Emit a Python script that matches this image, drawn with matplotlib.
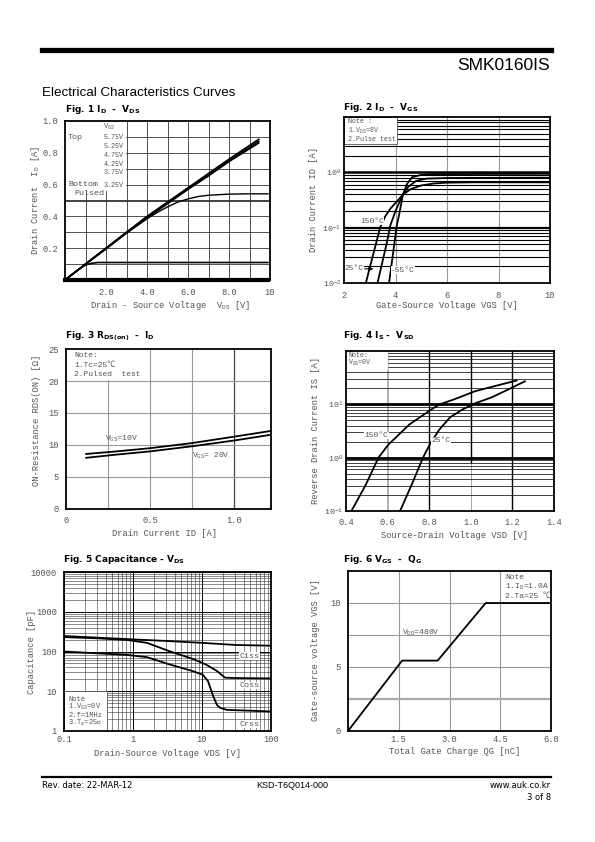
import matplotlib.pyplot as plt
import numpy as np
from matplotlib.patches import Rectangle

plt.rcParams['font.family'] = ['Liberation Mono', 'DejaVu Sans']
plt.rcParams['mathtext.default'] = 'regular'

W, H = 595, 842
GRAY = '#555555'

# ---- Fig.1  ID - VDS
vds1 = [0, 1, 2, 3, 4, 5, 6, 7, 8, 9.45]
id1_575 = [0, 0.10, 0.20, 0.30, 0.40, 0.49, 0.58, 0.67, 0.76, 0.885]
id1_525 = [0, 0.10, 0.20, 0.30, 0.395, 0.485, 0.575, 0.66, 0.75, 0.873]
id1_475 = [0, 0.10, 0.195, 0.295, 0.39, 0.48, 0.57, 0.655, 0.745, 0.862]
vds1_425 = [0, 1, 2, 3, 4, 4.5, 5, 5.5, 6, 6.5, 7, 8, 9, 9.9]
id1_425 = [0, 0.10, 0.20, 0.295, 0.385, 0.425, 0.46, 0.49, 0.51, 0.525, 0.533, 0.54, 0.542, 0.542]
vds1_375 = [0, 0.6, 1.0, 1.3, 1.6, 2.0, 9.9]
id1_375 = [0, 0.06, 0.095, 0.105, 0.11, 0.11, 0.11]
vds1_325 = [0, 9.9]
id1_325 = [0, 0]
vgs_steps = ['5.75V', '5.25V', '4.75V', '4.25V', '3.75V', '3.25V']

# ---- Fig.2  ID - VGS
vgs2_150 = [2.85, 3.0, 3.2, 3.4, 3.6, 3.8, 4.0, 4.3, 4.6, 5.0, 5.5, 6.0, 7.0, 10.0]
id2_150 = [0.01, 0.019, 0.043, 0.1, 0.16, 0.22, 0.28, 0.4, 0.5, 0.58, 0.63, 0.65, 0.66, 0.66]
vgs2_25 = [3.3, 3.5, 3.65, 3.8, 4.0, 4.29, 4.5, 4.8, 5.2, 6.0, 10.0]
id2_25 = [0.01, 0.025, 0.05, 0.11, 0.2, 0.4, 0.55, 0.7, 0.77, 0.79, 0.8]
vgs2_m55 = [3.75, 3.9, 4.05, 4.15, 4.29, 4.45, 4.65, 5.0, 5.5, 10.0]
id2_m55 = [0.01, 0.033, 0.11, 0.18, 0.4, 0.62, 0.82, 0.9, 0.93, 0.94]

# ---- Fig.3  RDS(on) - ID
id3 = [0.12, 0.3, 0.5, 0.75, 1.0, 1.22]
r3_10v = [8.6, 9.0, 9.5, 10.3, 11.3, 12.2]
r3_20v = [8.0, 8.5, 9.0, 9.8, 10.7, 11.6]

# ---- Fig.4  IS - VSD
vsd4_150 = [0.426, 0.495, 0.556, 0.604, 0.705, 0.81, 0.85, 0.92, 1.02, 1.116, 1.22]
is4_150 = [0.1, 0.31, 1.0, 1.76, 4.2, 8.0, 10.0, 12.4, 17.6, 22, 28]
vsd4_25 = [0.66, 0.72, 0.77, 0.81, 0.85, 0.9, 0.96, 1.02, 1.1, 1.18, 1.26]
is4_25 = [0.1, 0.34, 1.0, 2.0, 3.4, 5.7, 8.0, 10.4, 13.5, 19, 27]

# ---- Fig.5  Capacitance - VDS
vds5_ciss = [0.1, 0.82, 3.3, 10, 31, 100]
ciss = [245, 205, 183, 165, 146, 140]
vds5_coss = [0.1, 0.3, 0.82, 1.6, 3.3, 7.4, 11.7, 16.6, 21.5, 30, 100]
coss = [230, 215, 195, 165, 103, 65, 46, 32, 22, 21.5, 21]
vds5_crss = [0.1, 0.82, 1.6, 3.3, 7.4, 10.3, 12.2, 14.5, 16.5, 18.4, 23, 100]
crss = [100, 82, 72, 48, 32, 26, 18, 7.6, 4.5, 3.8, 3.4, 3.1]

# ---- Fig.6  VGS - QG
qg6 = [0, 1.6, 2.65, 4.07, 6.0]
vgs6 = [0, 5.5, 5.5, 10, 10]


def px_axes(l, t, r, b):
    return fig.add_axes([l / W, 1 - b / H, (r - l) / W, (b - t) / H])


def ftext(x, y, s, **kw):
    kw.setdefault('ha', 'left')
    kw.setdefault('va', 'center')
    fig.text(x / W, 1 - y / H, s, **kw)


def style(ax, lw=1.3):
    for sp in ax.spines.values():
        sp.set_linewidth(lw)
        sp.set_color('black')
        sp.set_zorder(5)
    ax.tick_params(length=0, labelsize=6.3, labelcolor=GRAY, pad=5)


fig = plt.figure(figsize=(W / 100, H / 100), dpi=100)

# header / footer
fig.add_artist(plt.Line2D([42 / W, 551 / W], [1 - 50 / H] * 2, color='black', lw=3.8))
ftext(550, 66, 'SMK0160IS', ha='right', fontsize=12.5, family='Liberation Sans')
ftext(42, 93, 'Electrical Characteristics Curves', fontsize=9.6, family='Liberation Sans')
fig.add_artist(plt.Line2D([42 / W, 551 / W], [1 - 777 / H] * 2, color='black', lw=1.6))
ftext(42, 786, 'Rev. date: 22-MAR-12', fontsize=6, family='DejaVu Sans')
ftext(292, 786, 'KSD-T6Q014-000', ha='center', fontsize=6.5, family='Liberation Sans')
ftext(551, 786, 'www.auk.co.kr', ha='right', fontsize=6, family='DejaVu Sans')
ftext(551, 797, '3 of 8', ha='right', fontsize=6, family='DejaVu Sans')

TK = dict(fontsize=6.5, family='DejaVu Sans', fontweight='bold')
LB = dict(fontsize=6.3, color=GRAY)

# ================= Fig 1 =================
ax1 = px_axes(65, 121, 270, 280)
style(ax1)
ax1.set_xlim(0, 10)
ax1.set_ylim(0, 1.0)
for v in range(1, 10):
    ax1.axvline(v, color='#333333', lw=0.6, zorder=1)
for v in np.arange(0.1, 1.0, 0.1):
    ax1.axhline(v, color='#333333', lw=1.3 if abs(v - 0.5) < 1e-6 else 0.6, zorder=1)
ax1.add_patch(Rectangle((0, 0.565), 2.95, 0.44, color='white', zorder=2))
for ys in (id1_575, id1_525, id1_475):
    ax1.plot(vds1, ys, color='black', lw=1.2, zorder=3)
ax1.plot(vds1_425, id1_425, color='black', lw=1.0, zorder=3)
ax1.plot(vds1_375, id1_375, color='black', lw=1.2, zorder=3)
ax1.plot(vds1_325, id1_325, color='black', lw=3, zorder=6, clip_on=False)
ax1.set_xticks([2, 4, 6, 8, 10], ['2.0', '4.0', '6.0', '8.0', '10'])
ax1.set_yticks([0.2, 0.4, 0.6, 0.8, 1.0], ['0.2', '0.4', '0.6', '0.8', '1.0'])
ax1.tick_params(axis='x', pad=6)
ax1.text(1.85, 0.95, '$V_{GS}$', fontsize=5, color=GRAY, zorder=4)
ax1.text(0.15, 0.885, 'Top', fontsize=6, color=GRAY, zorder=4)
for i, s in enumerate(vgs_steps):
    ax1.text(1.9, 0.885 - i * 0.055 - (0.025 if i == 5 else 0), s, fontsize=4.8, color=GRAY, zorder=4)
ax1.text(0.15, 0.58, 'Bottom', fontsize=6, color=GRAY, zorder=4, va='bottom')
ax1.text(0.45, 0.525, 'Pulsed', fontsize=6, color=GRAY, zorder=4, va='bottom')
ftext(65, 110, 'Fig. 1 $I_D$  -  $V_{DS}$', **TK)
ftext(170, 305, 'Drain - Source Voltage  $V_{DS}$ [V]', ha='center', **LB)
ftext(35, 200, 'Drain Current  $I_D$ [A]', ha='center', rotation=90, **LB)

# ================= Fig 2 =================
ax2 = px_axes(344, 117, 550, 283)
style(ax2)
ax2.set_yscale('log')
ax2.set_xlim(2, 10)
ax2.set_ylim(0.01, 10)
for v in (4, 6, 8):
    ax2.axvline(v, color='#999999', lw=0.8, zorder=1)
for dec in (0.01, 0.1, 1):
    for m in range(2, 10):
        ax2.axhline(dec * m, color='black', lw=0.8, zorder=1)
ax2.axhline(0.1, color='black', lw=1.6, zorder=1)
ax2.axhline(1.0, color='black', lw=1.8, zorder=1)
ax2.add_patch(Rectangle((2, 3.2), 2.06, 7, facecolor='white', edgecolor='#555555', lw=0.6, zorder=2))
ax2.text(2.15, 8.2, 'Note :', fontsize=4.8, color=GRAY, va='center', zorder=4)
ax2.text(2.15, 5.7, '1.$V_{DS}$=8V', fontsize=4.8, color=GRAY, va='center', zorder=4)
ax2.text(2.15, 4.0, '2.Pulse test', fontsize=4.8, color=GRAY, va='center', zorder=4)
ax2.plot(vgs2_150, id2_150, color='black', lw=1.3, zorder=3)
ax2.plot(vgs2_25, id2_25, color='black', lw=1.3, zorder=3)
ax2.plot(vgs2_m55, id2_m55, color='black', lw=1.3, zorder=3)
ax2.text(2.62, 0.13, '150°C', fontsize=5.8, color=GRAY, va='center', zorder=4,
         bbox=dict(facecolor='white', edgecolor='none', pad=0.3))
ax2.text(2.03, 0.018, '25°C', fontsize=5.8, color=GRAY, va='center', zorder=4,
         bbox=dict(facecolor='white', edgecolor='none', pad=0.3))
ax2.annotate('', xy=(3.25, 0.018), xytext=(2.7, 0.018),
             arrowprops=dict(arrowstyle='-|>', color='black', lw=0.8, mutation_scale=6), zorder=4)
ax2.text(3.83, 0.017, '-55°C', fontsize=5.8, color=GRAY, va='center', zorder=4,
         bbox=dict(facecolor='white', edgecolor='none', pad=0.3))
ax2.set_xticks([2, 4, 6, 8, 10], ['2', '4', '6', '8', '10'])
ax2.set_yticks([0.01, 0.1, 1], ['$10^{-2}$', '$10^{-1}$', '$10^{0}$'])
ax2.minorticks_off()
ax2.tick_params(axis='y', pad=2, labelsize=6)
ax2.tick_params(axis='x', pad=6)
ftext(343, 108, 'Fig. 2 $I_D$  -  $V_{GS}$', **TK)
ftext(447, 305, 'Gate-Source Voltage VGS [V]', ha='center', **LB)
ftext(314, 200, 'Drain Current ID [A]', ha='center', rotation=90, **LB)

# ================= Fig 3 =================
ax3 = px_axes(66, 349, 271, 509)
style(ax3)
ax3.set_xlim(0, 1.22)
ax3.set_ylim(0, 25)
for v in (0.25, 0.5, 0.75):
    ax3.axvline(v, color='#999999', lw=0.8, zorder=1)
ax3.axvline(1.0, color='#444444', lw=0.9, zorder=1)
for v in (5, 10, 15, 20):
    ax3.axhline(v, color='#999999', lw=0.8, zorder=1)
ax3.add_patch(Rectangle((0, 20.3), 0.45, 5, color='white', zorder=2))
ax3.text(0.05, 24.0, 'Note:', fontsize=5.8, color=GRAY, va='center', zorder=4)
ax3.text(0.05, 22.5, '1.Tc=25℃', fontsize=5.8, color=GRAY, va='center', zorder=4,
         family=['Liberation Mono', 'Noto Sans CJK SC'])
ax3.text(0.05, 21.0, '2.Pulsed  test', fontsize=5.8, color=GRAY, va='center', zorder=4)
ax3.plot(id3, r3_10v, color='black', lw=1.3, zorder=3)
ax3.plot(id3, r3_20v, color='black', lw=1.3, zorder=3)
ax3.text(0.33, 11.0, '$V_{GS}$=10V', fontsize=5.8, color=GRAY, ha='center', va='center', zorder=4)
ax3.text(0.86, 8.3, '$V_{GS}$= 20V', fontsize=5.8, color=GRAY, ha='center', va='center', zorder=4)
ax3.set_xticks([0, 0.5, 1.0], ['0', '0.5', '1.0'])
ax3.set_yticks([0, 5, 10, 15, 20, 25])
ftext(65, 336, 'Fig. 3 $R_{DS(on)}$  -  $I_D$', **TK)
ftext(165, 534, 'Drain Current ID [A]', ha='center', **LB)
ftext(37, 420, 'ON-Resistance RDS(ON) [Ω]', ha='center', rotation=90, **LB)

# ================= Fig 4 =================
ax4 = px_axes(346, 351, 554, 511)
style(ax4)
ax4.set_yscale('log')
ax4.set_xlim(0.4, 1.4)
ax4.set_ylim(0.1, 100)
ax4.axvline(0.6, color='#aaaaaa', lw=1.3, zorder=1)
for v in (0.8, 1.2):
    ax4.axvline(v, color='black', lw=1.0, zorder=1)
ax4.axvline(1.0, ymin=0.3, color='black', lw=1.0, zorder=1)
ax4.axvline(1.0, ymax=0.3, color='#999999', lw=0.6, zorder=1)
for dec in (0.1, 1, 10):
    for m in range(2, 10):
        ax4.axhline(dec * m, color='#222222', lw=0.6, zorder=1)
ax4.axhline(1, color='black', lw=2.0, zorder=1)
ax4.axhline(10, color='black', lw=2.0, zorder=1)
ax4.add_patch(Rectangle((0.4, 46), 0.195, 60, color='white', zorder=2))
ax4.text(0.41, 82, 'Note:', fontsize=4.8, color=GRAY, va='center', zorder=4)
ax4.text(0.41, 60, '$V_{GS}$=0V', fontsize=4.8, color=GRAY, va='center', zorder=4)
ax4.plot(vsd4_150, is4_150, color='black', lw=1.3, zorder=3)
ax4.plot(vsd4_25, is4_25, color='black', lw=1.3, zorder=3)
ax4.text(0.49, 2.6, '150°C', fontsize=5.8, color=GRAY, va='center', zorder=4,
         bbox=dict(facecolor='white', edgecolor='none', pad=0.3))
ax4.text(0.81, 2.1, '25°C', fontsize=5.8, color=GRAY, va='center', zorder=4,
         bbox=dict(facecolor='white', edgecolor='none', pad=0.3))
ax4.set_xticks([0.4, 0.6, 0.8, 1.0, 1.2, 1.4])
ax4.set_yticks([0.1, 1, 10], ['$10^{-1}$', '$10^{0}$', '$10^{1}$'])
ax4.minorticks_off()
ax4.tick_params(axis='y', pad=2, labelsize=6)
ftext(343, 336, 'Fig. 4 $I_S$ -  $V_{SD}$', **TK)
ftext(455, 536, 'Source-Drain Voltage VSD [V]', ha='center', **LB)
ftext(316, 430, 'Reverse Drain Current IS [A]', ha='center', rotation=90, **LB)

# ================= Fig 5 =================
ax5 = px_axes(64, 572, 271, 731)
style(ax5)
ax5.set_xscale('log')
ax5.set_yscale('log')
ax5.set_xlim(0.1, 100)
ax5.set_ylim(1, 10000)
ax5.grid(True, which='major', color='black', lw=0.7, zorder=1)
ax5.grid(True, which='minor', color='#333333', lw=0.4, zorder=1)
ax5.set_axisbelow(True)
ax5.add_patch(Rectangle((0.1, 1), 0.32, 9.2, facecolor='white', edgecolor='#555555', lw=0.6, zorder=2))
note5 = ['Note', '1.$V_{GS}$=0V', '2.f=1MHz', '3.$T_a$=25℃']
for i, s in enumerate(note5):
    ax5.text(0.115, 10 ** (0.8 - i * 0.2), s, fontsize=5, color=GRAY, va='center', zorder=4,
             family=['Liberation Mono', 'Noto Sans CJK SC'])
ax5.plot(vds5_ciss, ciss, color='black', lw=1.3, zorder=3)
ax5.plot(vds5_coss, coss, color='black', lw=1.3, zorder=3)
ax5.plot(vds5_crss, crss, color='black', lw=1.3, zorder=3)
for s, yv in (('Ciss', 77), ('Coss', 14), ('Crss', 1.5)):
    ax5.text(35, yv, s, fontsize=6, color=GRAY, va='center', zorder=4,
             bbox=dict(facecolor='white', edgecolor='none', pad=0.2))
ax5.set_xticks([0.1, 1, 10, 100], ['0.1', '1', '10', '100'])
ax5.set_yticks([1, 10, 100, 1000, 10000], ['1', '10', '100', '1000', '10000'])
ax5.tick_params(which='minor', length=0, labelleft=False, labelbottom=False)
ax5.tick_params(axis='x', pad=3)
ftext(63, 560, 'Fig. 5 Capacitance - $V_{DS}$', **TK)
ftext(168, 753, 'Drain-Source Voltage VDS [V]', ha='center', **LB)
ftext(31, 652, 'Capacitance [pF]', ha='center', rotation=90, **LB)

# ================= Fig 6 =================
ax6 = px_axes(348, 571, 551, 731)
style(ax6)
ax6.set_xlim(0, 6)
ax6.set_ylim(0, 12.5)
for v in (1.5, 3.0, 4.5):
    ax6.axvline(v, color='#999999', lw=0.8, zorder=1)
for v in (5, 7.5, 10):
    ax6.axhline(v, color='#999999', lw=0.8, zorder=1)
ax6.axhline(2.5, color='#aaaaaa', lw=1.6, zorder=1)
ax6.add_patch(Rectangle((4.55, 10.2), 1.5, 2.4, color='white', zorder=2))
for i, s in enumerate(['Note', '1.$I_D$=1.0A', '2.Ta=25 ℃']):
    ax6.text(4.65, 12.0 - i * 0.75, s, fontsize=5.8, color=GRAY, va='center', zorder=4,
             family=['Liberation Mono', 'Noto Sans CJK SC'])
ax6.plot(qg6, vgs6, color='black', lw=1.3, zorder=3)
ax6.text(1.6, 7.7, '$V_{DD}$=480V', fontsize=5.8, color=GRAY, va='center', zorder=4)
ax6.set_xticks([1.5, 3.0, 4.5, 6.0])
ax6.set_yticks([0, 5, 10])
ax6.tick_params(axis='x', pad=3)
ftext(343, 560, 'Fig. 6 $V_{GS}$  -  $Q_G$', **TK)
ftext(455, 752, 'Total Gate Charge QG [nC]', ha='center', **LB)
ftext(316, 650, 'Gate-source voltage VGS [V]', ha='center', rotation=90, **LB)

fig.savefig('out.png', dpi=100)
